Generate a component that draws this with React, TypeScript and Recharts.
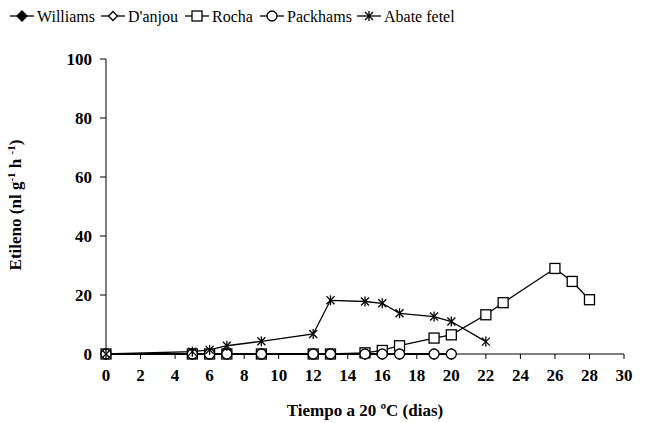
import { LineChart, Line, XAxis, YAxis } from "recharts";

const FONT = "'Liberation Serif', 'DejaVu Serif', 'Times New Roman', serif";

const xTicks = [0, 2, 4, 6, 8, 10, 12, 14, 16, 18, 20, 22, 24, 26, 28, 30];
const yTicks = [0, 20, 40, 60, 80, 100];

const commonDays = [0, 5, 6, 7, 9, 12, 13, 15, 16, 17, 19, 20];
const williams = [0, 0, 0, 0, 0, 0, 0, 0, 0, 0, 0, 0];
const danjou = [0, 0, 0, 0, 0, 0, 0, 0, 0, 0, 0, 0];
const packhams = [0, 0, 0, 0, 0, 0, 0, 0, 0, 0, 0, 0];

const rochaDays = [0, 5, 6, 7, 9, 12, 13, 15, 16, 17, 19, 20, 22, 23, 26, 27, 28];
const rocha = [0, 0, 0, 0, 0, 0, 0, 0.4, 1.2, 2.8, 5.4, 6.5, 13.3, 17.4, 29, 24.6, 18.4];

const abateDays = [0, 5, 6, 7, 9, 12, 13, 15, 16, 17, 19, 20, 22];
const abate = [0, 0.8, 1.4, 2.8, 4.3, 6.8, 18.2, 17.8, 17.2, 13.8, 12.7, 11, 4.2];

const toRows = (days: number[], vals: number[]) =>
  days.map((d, i) => ({ x: d, y: vals[i] }));

const series = [
  { name: "Williams", data: toRows(commonDays, williams), shape: "diamondFilled", lx: 10 },
  { name: "D'anjou", data: toRows(commonDays, danjou), shape: "diamond", lx: 101 },
  { name: "Rocha", data: toRows(rochaDays, rocha), shape: "square", lx: 185 },
  { name: "Packhams", data: toRows(commonDays, packhams), shape: "circle", lx: 260 },
  { name: "Abate fetel", data: toRows(abateDays, abate), shape: "star", lx: 357 },
];

const textStyle = { fontFamily: FONT };

function Marker({ shape, cx, cy }: { shape: string; cx: number; cy: number }) {
  const s = { stroke: "#000", strokeWidth: 1.3 };
  if (shape === "diamondFilled")
    return <polygon points={`${cx},${cy - 5} ${cx + 5},${cy} ${cx},${cy + 5} ${cx - 5},${cy}`} fill="#000" {...s} />;
  if (shape === "diamond")
    return <polygon points={`${cx},${cy - 4.5} ${cx + 4.5},${cy} ${cx},${cy + 4.5} ${cx - 4.5},${cy}`} fill="#fff" {...s} />;
  if (shape === "square")
    return <rect x={cx - 5} y={cy - 5} width={10} height={10} fill="#fff" {...s} />;
  if (shape === "circle")
    return <circle cx={cx} cy={cy} r={5} fill="#fff" {...s} />;
  return (
    <g {...s}>
      <line x1={cx - 4} y1={cy - 4} x2={cx + 4} y2={cy + 4} />
      <line x1={cx - 4} y1={cy + 4} x2={cx + 4} y2={cy - 4} />
      <line x1={cx} y1={cy - 5} x2={cx} y2={cy + 5} />
    </g>
  );
}

function LegendBox() {
  const items = series.map((s) => (
    <g key={s.name}>
      <line x1={s.lx} y1={16} x2={s.lx + 24} y2={16} stroke="#000" strokeWidth={1.3} />
      <Marker shape={s.shape} cx={s.lx + 12} cy={16} />
      <text x={s.lx + 27} y={21.5} fontSize={16} fill="#000" style={textStyle}>
        {s.name}
      </text>
    </g>
  ));
  return (
    <svg width={664} height={40} style={{ position: "absolute", left: 0, top: 0 }}>
      {items}
    </svg>
  );
}

function YLabel() {
  return (
    <text
      transform="translate(21,205) rotate(-90)"
      textAnchor="middle"
      fontSize={17}
      fontWeight="bold"
      fill="#000"
      style={textStyle}
    >
      Etileno (nl g
      <tspan fontSize={11} dy={-6}>-1</tspan>
      <tspan dy={6}> h </tspan>
      <tspan fontSize={11} dy={-6}>-1</tspan>
      <tspan dy={6}>)</tspan>
    </text>
  );
}

function XLabel() {
  return (
    <text x={365} y={416} textAnchor="middle" fontSize={17} fontWeight="bold" fill="#000" style={textStyle}>
      Tiempo a 20 ºC (dias)
    </text>
  );
}

const tickStyle = { fill: "#000", fontFamily: FONT, fontSize: 17, fontWeight: "bold" };

export default function App() {
  return (
    <div style={{ position: "absolute", left: 0, top: 0, width: 664, height: 423, background: "#fff", fontFamily: FONT }}>
      <LineChart
        width={664}
        height={423}
        margin={{ top: 59, right: 40, left: 46, bottom: 39 }}
        style={textStyle}
      >
        <XAxis
          type="number"
          dataKey="x"
          domain={[0, 30]}
          ticks={xTicks}
          allowDuplicatedCategory={false}
          stroke="#000"
          tickSize={5}
          tickMargin={10}
          tick={tickStyle}
          height={30}
        />
        <YAxis
          type="number"
          domain={[0, 100]}
          ticks={yTicks}
          stroke="#000"
          tickSize={6}
          tickMargin={8}
          width={60}
          tick={tickStyle}
        />
        {series.map((s) => (
          <Line
            key={s.name}
            data={s.data}
            dataKey="y"
            name={s.name}
            stroke="#000"
            strokeWidth={1.3}
            isAnimationActive={false}
            dot={(p: any) => <Marker key={`${s.name}-${p.index}`} shape={s.shape} cx={p.cx} cy={p.cy} />}
            activeDot={false}
          />
        ))}
        <YLabel />
        <XLabel />
      </LineChart>
      <LegendBox />
    </div>
  );
}
